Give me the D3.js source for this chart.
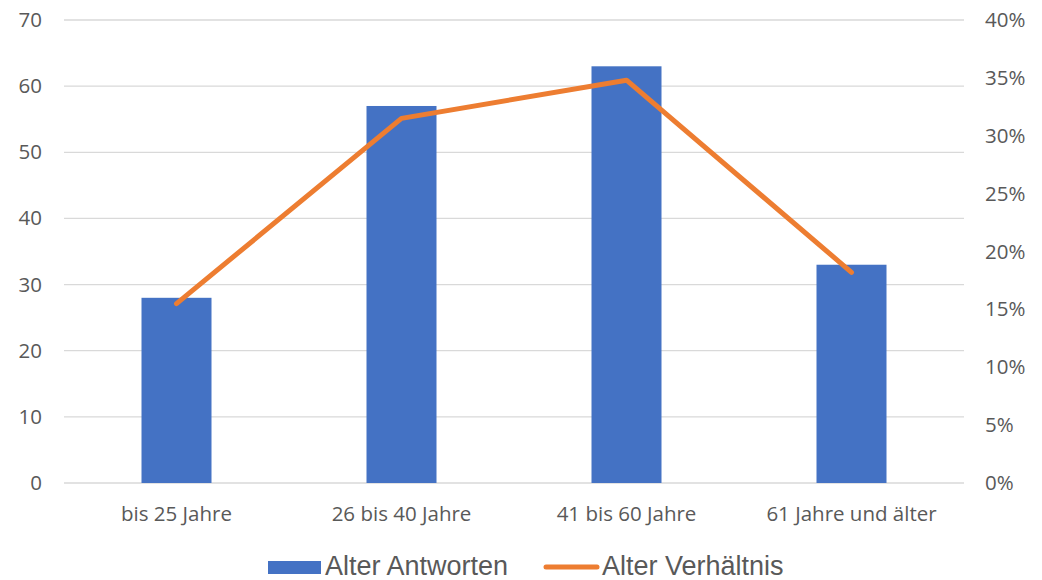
<!DOCTYPE html>
<html><head><meta charset="utf-8">
<script src="https://cdn.jsdelivr.net/npm/d3@7"></script>
<style>body{margin:0;background:#fff}svg{display:block}</style>
</head><body>
<svg id="c" width="1042" height="580"></svg>
<script>
const categories = ["bis 25 Jahre", "26 bis 40 Jahre", "41 bis 60 Jahre", "61 Jahre und älter"];
const antworten = [28, 57, 63, 33];
const verhaeltnis = [0.155, 0.315, 0.348, 0.182];
const leftTicks = [0, 10, 20, 30, 40, 50, 60, 70];
const rightTicks = [0, 0.05, 0.10, 0.15, 0.20, 0.25, 0.30, 0.35, 0.40];
const seriesNames = ["Alter Antworten", "Alter Verhältnis"];

const svg = d3.select("#c");
const L = 64, R = 964, T = 20, B = 483;
const x = d3.scaleBand().domain(categories).range([L, R]).paddingInner(0).paddingOuter(0);
const yL = d3.scaleLinear().domain([0, 70]).range([B, T]);
const yR = d3.scaleLinear().domain([0, 0.4]).range([B, T]);
const tickFont = "'Open Sans', 'Noto Sans', sans-serif";
const grey = "#595959";
const fs = 20.5;

// gridlines
svg.append("g").selectAll("line").data(leftTicks).join("line")
  .attr("x1", L).attr("x2", R).attr("y1", d => yL(d)).attr("y2", d => yL(d))
  .attr("stroke", "#d9d9d9").attr("stroke-width", 1.3);

// left axis
const gl = svg.append("g").attr("transform", `translate(${L},0)`)
  .call(d3.axisLeft(yL).tickValues(leftTicks).tickSize(0).tickPadding(22));
gl.select(".domain").remove();
gl.selectAll("text").attr("font-family", tickFont).attr("font-size", fs).attr("fill", grey);

// right axis
const gr = svg.append("g").attr("transform", `translate(${R},0)`)
  .call(d3.axisRight(yR).tickValues(rightTicks).tickSize(0).tickPadding(21).tickFormat(d3.format(".0%")));
gr.select(".domain").remove();
gr.selectAll("text").attr("font-family", tickFont).attr("font-size", fs).attr("fill", grey);

// bottom axis
const gb = svg.append("g").attr("transform", `translate(0,${B})`)
  .call(d3.axisBottom(x).tickSize(0).tickPadding(23));
gb.select(".domain").remove();
gb.selectAll("text").attr("font-family", tickFont).attr("font-size", fs).attr("fill", grey);

// bars
const bw = 70;
svg.append("g").selectAll("rect").data(antworten).join("rect")
  .attr("x", (d, i) => x(categories[i]) + x.bandwidth() / 2 - bw / 2)
  .attr("width", bw)
  .attr("y", d => yL(d)).attr("height", d => B - yL(d))
  .attr("fill", "#4472C4");

// line
const line = d3.line().x((d, i) => x(categories[i]) + x.bandwidth() / 2).y(d => yR(d));
svg.append("path").datum(verhaeltnis).attr("d", line)
  .attr("fill", "none").attr("stroke", "#ED7D31").attr("stroke-width", 5)
  .attr("stroke-linecap", "round").attr("stroke-linejoin", "round");

// legend
const lg = svg.append("g");
const legFont = "'Liberation Sans', Arial, sans-serif";
lg.append("rect").attr("x", 268).attr("y", 561).attr("width", 53).attr("height", 13).attr("fill", "#4472C4");
lg.append("text").attr("x", 325).attr("y", 575).text(seriesNames[0])
  .attr("font-family", legFont).attr("font-size", 27).attr("fill", grey);
lg.append("line").attr("x1", 546).attr("x2", 597).attr("y1", 567).attr("y2", 567)
  .attr("stroke", "#ED7D31").attr("stroke-width", 5).attr("stroke-linecap", "round");
lg.append("text").attr("x", 602).attr("y", 575).text(seriesNames[1])
  .attr("font-family", legFont).attr("font-size", 27).attr("fill", grey);
</script>
</body></html>
